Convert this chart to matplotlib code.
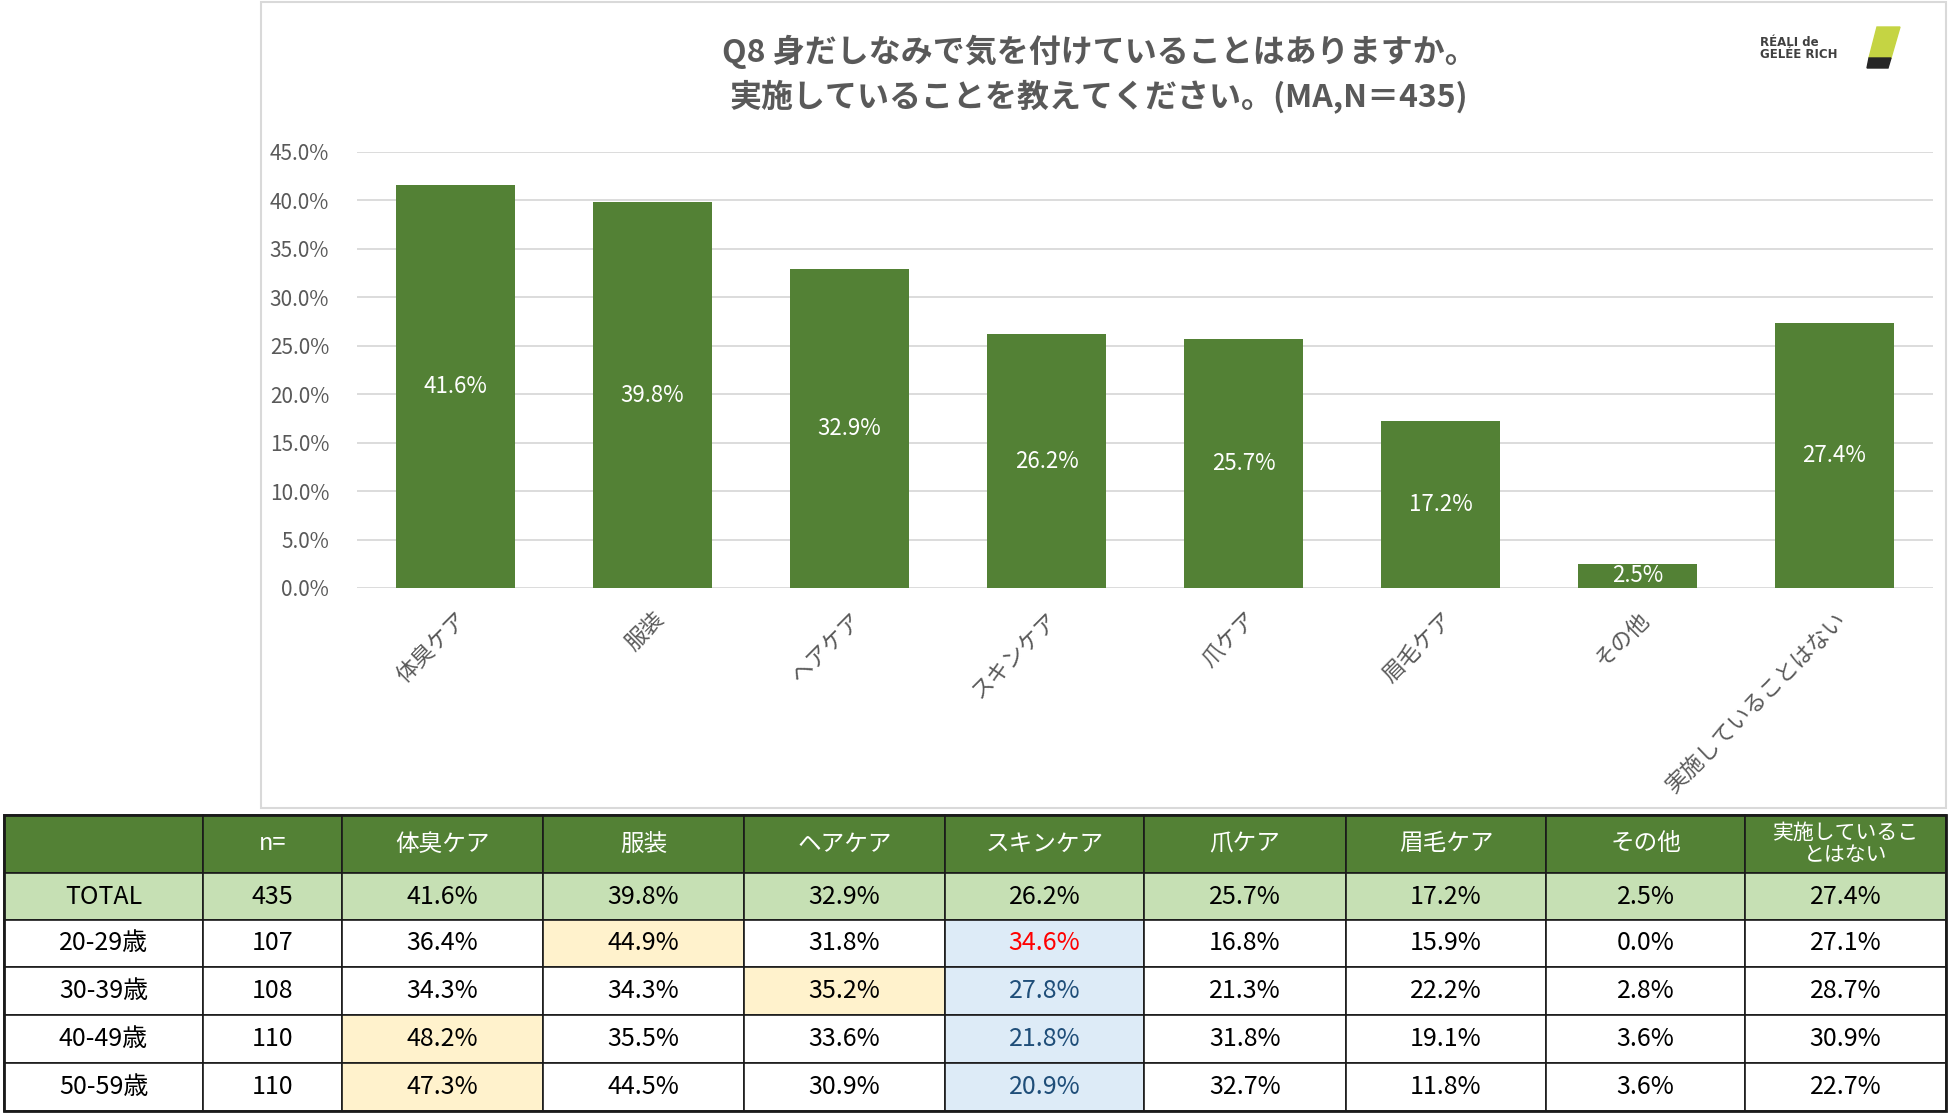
import matplotlib
matplotlib.use('Agg')
import matplotlib.pyplot as plt
from matplotlib.patches import Rectangle, Polygon

plt.rcParams['font.family'] = ['Noto Sans CJK JP', 'DejaVu Sans']

# data
categories = ['体臭ケア', '服装', 'ヘアケア', 'スキンケア', '爪ケア', '眉毛ケア', 'その他', '実施していることはない']
total = [41.6, 39.8, 32.9, 26.2, 25.7, 17.2, 2.5, 27.4]
y_ticks = [0, 5, 10, 15, 20, 25, 30, 35, 40, 45]

row_labels = ['TOTAL', '20-29歳', '30-39歳', '40-49歳', '50-59歳']
n_values = [435, 107, 108, 110, 110]
age_20 = [36.4, 44.9, 31.8, 34.6, 16.8, 15.9, 0.0, 27.1]
age_30 = [34.3, 34.3, 35.2, 27.8, 21.3, 22.2, 2.8, 28.7]
age_40 = [48.2, 35.5, 33.6, 21.8, 31.8, 19.1, 3.6, 30.9]
age_50 = [47.3, 44.5, 30.9, 20.9, 32.7, 11.8, 3.6, 22.7]
header = ['', 'n=', '体臭ケア', '服装', 'ヘアケア', 'スキンケア', '爪ケア', '眉毛ケア', 'その他', '実施しているこ\nとはない']

GREEN = '#538135'
GRAY = '#595959'
W, H = 1950, 1114

fig = plt.figure(figsize=(19.5, 11.14), dpi=100)
fig.set_facecolor('white')

# overlay in pixel coords for frame, logo, table
ov = fig.add_axes([0, 0, 1, 1])
ov.set_xlim(0, W)
ov.set_ylim(H, 0)
ov.axis('off')
ov.add_patch(Rectangle((261, 2), 1685, 806, fill=False, edgecolor='#D9D9D9', linewidth=1.5))

# chart
ax = fig.add_axes([357 / W, 1 - 588 / H, (1933 - 357) / W, (588 - 152) / H])
ax.set_facecolor('none')
x = range(len(categories))
bars = ax.bar(x, total, width=0.6, color=GREEN, zorder=3)
for b, v in zip(bars, total):
    ax.text(b.get_x() + b.get_width() / 2, v / 2, f'{v:.1f}%', ha='center', va='center',
            color='white', fontsize=16, zorder=4)
ax.set_xlim(-0.5, 7.5)
ax.set_ylim(0, 45)
ax.set_yticks(y_ticks)
ax.set_yticklabels([f'{t:.1f}%' for t in y_ticks], fontsize=15, color=GRAY)
ax.set_xticks(list(x))
ax.set_xticklabels(categories, rotation=45, ha='right', va='top', rotation_mode='anchor',
                   fontsize=16, color=GRAY)
ax.tick_params(length=0)
ax.tick_params(axis='y', pad=20)
ax.tick_params(axis='x', pad=14)
ax.grid(axis='y', color='#D9D9D9', linewidth=1.3, zorder=0)
for s in ax.spines.values():
    s.set_visible(False)

fig.text(1099 / W, 1 - 52 / H, 'Q8 身だしなみで気を付けていることはありますか。', ha='center', va='center',
         fontsize=23, color=GRAY, fontweight='bold')
fig.text(1099 / W, 1 - 96 / H, '実施していることを教えてください。(MA,N＝435)', ha='center', va='center',
         fontsize=23, color=GRAY, fontweight='bold')

# logo
ov.text(1760, 43, 'RÉALI de', fontsize=8.5, color='#404040', va='center', family='DejaVu Sans',
        fontweight='bold')
ov.text(1760, 55, 'GELÉE RICH', fontsize=8.5, color='#404040', va='center', family='DejaVu Sans',
        fontweight='bold')
ov.add_patch(Polygon([(1877, 27), (1900, 27), (1891, 58), (1869, 58)], closed=True, color='#C5D443'))
ov.add_patch(Polygon([(1869, 58), (1891, 58), (1888, 68), (1867, 68)], closed=True, color='#262626'))

# table
col_edges = [4, 203, 342, 543, 744, 945, 1144, 1346, 1546, 1745, 1946]
row_edges = [815, 873, 920, 967, 1015, 1063, 1111]
rows = [total, age_20, age_30, age_40, age_50]
skin_col = categories.index('スキンケア')
skin_vals = [r[skin_col] for r in rows[1:]]

for j, h in enumerate(header):
    x0, x1 = col_edges[j], col_edges[j + 1]
    y0, y1 = row_edges[0], row_edges[1]
    ov.add_patch(Rectangle((x0, y0), x1 - x0, y1 - y0, facecolor=GREEN, edgecolor='#1a1a1a', linewidth=1.2))
    fs = 15 if '\n' in h else 17
    ov.text((x0 + x1) / 2, (y0 + y1) / 2, h, ha='center', va='center', color='white',
            fontsize=fs, linespacing=1.0)

for i, (lab, n, vals) in enumerate(zip(row_labels, n_values, rows)):
    y0, y1 = row_edges[i + 1], row_edges[i + 2]
    cells = [lab, str(n)] + [f'{v:.1f}%' for v in vals]
    for j, c in enumerate(cells):
        x0, x1 = col_edges[j], col_edges[j + 1]
        face = 'white'
        color = 'black'
        if i == 0:
            face = '#C6E0B4'
        elif j >= 2:
            k = j - 2
            if vals[k] == max(vals):
                face = '#FFF2CC'
            if k == skin_col:
                face = '#DDEBF7'
                color = '#FF0000' if vals[k] == max(skin_vals) else '#1F4E79'
        ov.add_patch(Rectangle((x0, y0), x1 - x0, y1 - y0, facecolor=face, edgecolor='#1a1a1a', linewidth=1.2))
        ov.text((x0 + x1) / 2, (y0 + y1) / 2, c, ha='center', va='center', color=color, fontsize=18)

ov.add_patch(Rectangle((col_edges[0], row_edges[0]), col_edges[-1] - col_edges[0],
                       row_edges[-1] - row_edges[0], fill=False, edgecolor='#1a1a1a', linewidth=2))

fig.savefig('out.png', dpi=100)
